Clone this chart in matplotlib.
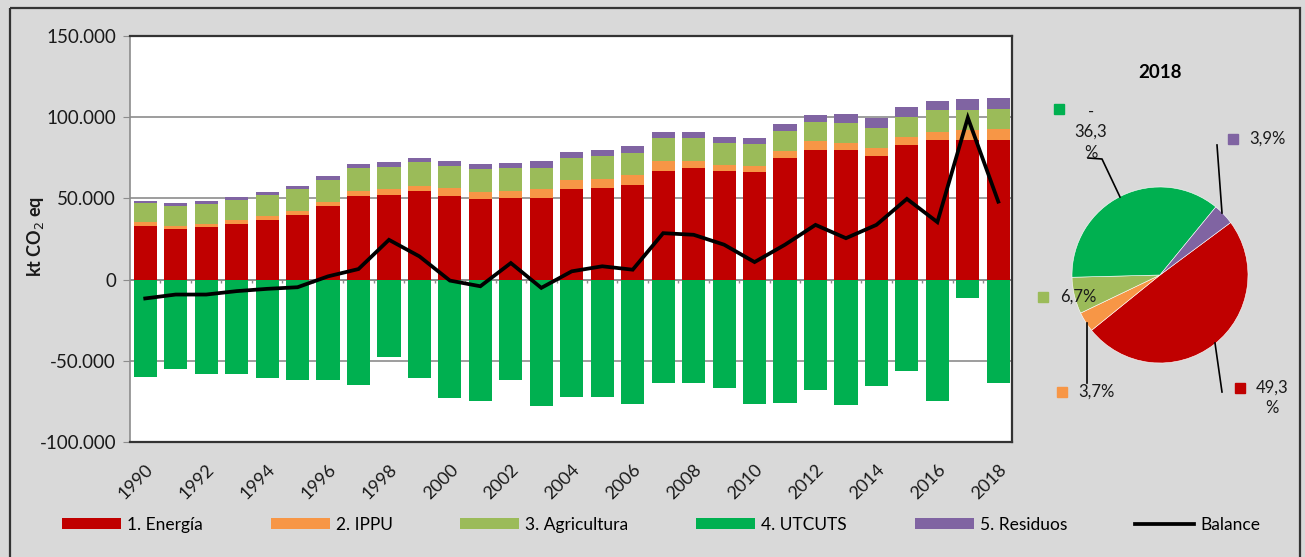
import matplotlib
matplotlib.use("Agg")
import matplotlib.pyplot as plt
from matplotlib.patches import Rectangle
from matplotlib.ticker import FuncFormatter

plt.rcParams["font.family"] = ["Lato", "DejaVu Sans"]

# ====== Data (kt CO2 eq) ======
years = list(range(1990, 2019))

energia = [33100, 31300, 32300, 34300, 37000, 39600, 45200, 51500, 51900, 54400,
           51500, 49500, 50100, 50500, 55600, 56600, 58000, 67000, 68500, 66600,
           66200, 74600, 80100, 79500, 76200, 82600, 85800, 86000, 86200]
ippu = [2500, 2000, 2000, 2100, 2200, 2500, 2800, 3300, 3700, 3400,
        4700, 4300, 4700, 5100, 5700, 5500, 6400, 5800, 4500, 4100,
        3700, 4500, 5300, 4700, 4700, 5300, 5300, 6300, 6500]
agricultura = [11800, 12100, 12500, 12600, 12700, 13500, 13300, 14100, 13900, 14500,
               13900, 14100, 13900, 13300, 13500, 13900, 13300, 14200, 14000, 13200,
               13300, 12600, 11500, 12300, 12700, 12100, 13100, 12300, 12300]
utcuts = [-59900, -55200, -58400, -58400, -60300, -61900, -61900, -65000, -47600, -60700,
          -73100, -74800, -61700, -77700, -72500, -72100, -76600, -63400, -63800, -66600,
          -76600, -76200, -68000, -77200, -65800, -56200, -74800, -11200, -63600]
residuos = [1200, 1800, 1800, 1900, 2000, 1800, 2300, 2100, 2700, 2300,
            2900, 3100, 3200, 3900, 3900, 4100, 4600, 3900, 3900, 4000,
            4100, 4300, 4300, 5200, 5700, 6200, 5600, 6400, 7000]
balance = [-11600, -9200, -9200, -7100, -5700, -4700, 2000, 6500, 24500, 14300,
           -600, -4100, 10200, -5100, 5100, 8200, 6100, 28600, 27600, 21500,
           10800, 21500, 33700, 25500, 33700, 49700, 35400, 99700, 48000]

series_names = ["1. Energía", "2. IPPU", "3. Agricultura", "4. UTCUTS", "5. Residuos"]
series_colors = ["#C00000", "#F79646", "#9BBB59", "#00B050", "#8064A2"]

# 2018 shares (%)
pie_values = [49.3, 3.7, 6.7, 36.3, 3.9]
pie_texts = ["49,3\n%", "3,7%", "6,7%", "-\n36,3\n%", "3,9%"]

W, H = 1305, 557
fig = plt.figure(figsize=(W / 100, H / 100), dpi=100)
fig.patch.set_facecolor("#D9D9D9")


def fx(px):
    return px / W


def fy(py):
    return 1 - py / H


# ====== Bar chart ======
ax = fig.add_axes([fx(130), fy(442), fx(1012) - fx(130), fy(36) - fy(442)])
ax.set_facecolor("white")
bw = 0.76
c_red, c_org, c_agr, c_utc, c_res = series_colors

b1 = ax.bar(years, energia, bw, color=c_red, label=series_names[0], zorder=2)
bot = list(energia)
b2 = ax.bar(years, ippu, bw, bottom=bot, color=c_org, label=series_names[1], zorder=2)
bot = [a + b for a, b in zip(bot, ippu)]
b3 = ax.bar(years, agricultura, bw, bottom=bot, color=c_agr, label=series_names[2], zorder=2)
bot = [a + b for a, b in zip(bot, agricultura)]
b5 = ax.bar(years, residuos, bw, bottom=bot, color=c_res, label=series_names[4], zorder=2)
b4 = ax.bar(years, utcuts, bw, color=c_utc, label=series_names[3], zorder=2)
ln, = ax.plot(years, balance, color="black", lw=2.7, label="Balance", zorder=4,
              solid_joinstyle="miter")

ax.set_xlim(years[0] - 0.5, years[-1] + 0.45)
ax.set_ylim(-100000, 150000)
ax.set_yticks(range(-100000, 150001, 50000))
ax.yaxis.set_major_formatter(FuncFormatter(lambda v, p: f"{int(v):,}".replace(",", ".")))
ax.grid(axis="y", color="#8C8C8C", lw=1.2, zorder=0)
ax.set_axisbelow(True)

# category axis at zero with small tick marks between categories
ax.axhline(0, color="#8C8C8C", lw=1.2, zorder=1)
ax.vlines([y + 0.5 for y in years[:-1]], 0, -1800, color="#8C8C8C", lw=1, zorder=3)

ax.set_xticks(years[::2])
ax.set_xticklabels([str(y) for y in years[::2]], rotation=45, ha="right",
                   rotation_mode="anchor", fontsize=13, color="#1a1a1a")
ax.tick_params(axis="x", length=0, pad=14)
ax.tick_params(axis="y", length=5, color="#8C8C8C", labelsize=13.5, labelcolor="#1a1a1a", pad=5)

for s in ["top", "right", "bottom"]:
    ax.spines[s].set_color("#333333")
    ax.spines[s].set_linewidth(1.6)
ax.spines["left"].set_color("#8C8C8C")
ax.spines["left"].set_linewidth(1.2)

fig.text(fx(36), fy(237), r"kt CO$_2$ eq", rotation=90, ha="center", va="center",
         fontsize=13, fontweight="bold", color="#1a1a1a")

leg = fig.legend([b1, b2, b3, b4, b5, ln], series_names + ["Balance"], ncol=6,
                 loc="center", bbox_to_anchor=(fx(661), fy(525)), frameon=False,
                 fontsize=12.5, handlelength=3.4, handleheight=0.6, handletextpad=0.35,
                 columnspacing=3.9)

# ====== Pie 2018 ======
pax = fig.add_axes([fx(1072), fy(363), fx(176), 176 / H])
pax.pie(pie_values, colors=series_colors, startangle=36.6, counterclock=False,
        wedgeprops=dict(edgecolor="white", linewidth=0.4))
pax.set_xlim(-1, 1)
pax.set_ylim(-1, 1)
pax.set_aspect("equal")

# overlay in pixel coordinates for frame, pie labels and leader lines
ov = fig.add_axes([0, 0, 1, 1], facecolor="none")
ov.set_xlim(0, W)
ov.set_ylim(H, 0)
ov.axis("off")
ov.add_patch(Rectangle((10, 8), 1290, 560, fill=False, ec="#333333", lw=1.6))

ov.text(1160, 72, "2018", ha="center", va="center", fontsize=13.5, fontweight="bold")

label_pos = [(1272, 398), (1096, 392), (1078, 297), (1091, 132), (1267, 139)]
square_pos = [(1240, 388), (1062, 392), (1043, 297), (1059, 109), (1233, 139)]
for txt, (tx, ty), (sx, sy), col in zip(pie_texts, label_pos, square_pos, series_colors):
    ov.plot(sx, sy, marker="s", ms=6.5, color=col, mec=col)
    ov.text(tx, ty, txt, ha="center", va="center", fontsize=12,
            color="#1a1a1a", linespacing=1.35)

# leader lines
ov.plot([1088, 1102, 1120], [158, 159, 197], color="black", lw=1.2)
ov.plot([1217, 1222], [145, 213], color="black", lw=1.2)
ov.plot([1087, 1087], [323, 383], color="black", lw=1.2)
ov.plot([1215, 1222], [343, 392], color="black", lw=1.2)

fig.savefig("out.png", dpi=100, facecolor=fig.get_facecolor())
